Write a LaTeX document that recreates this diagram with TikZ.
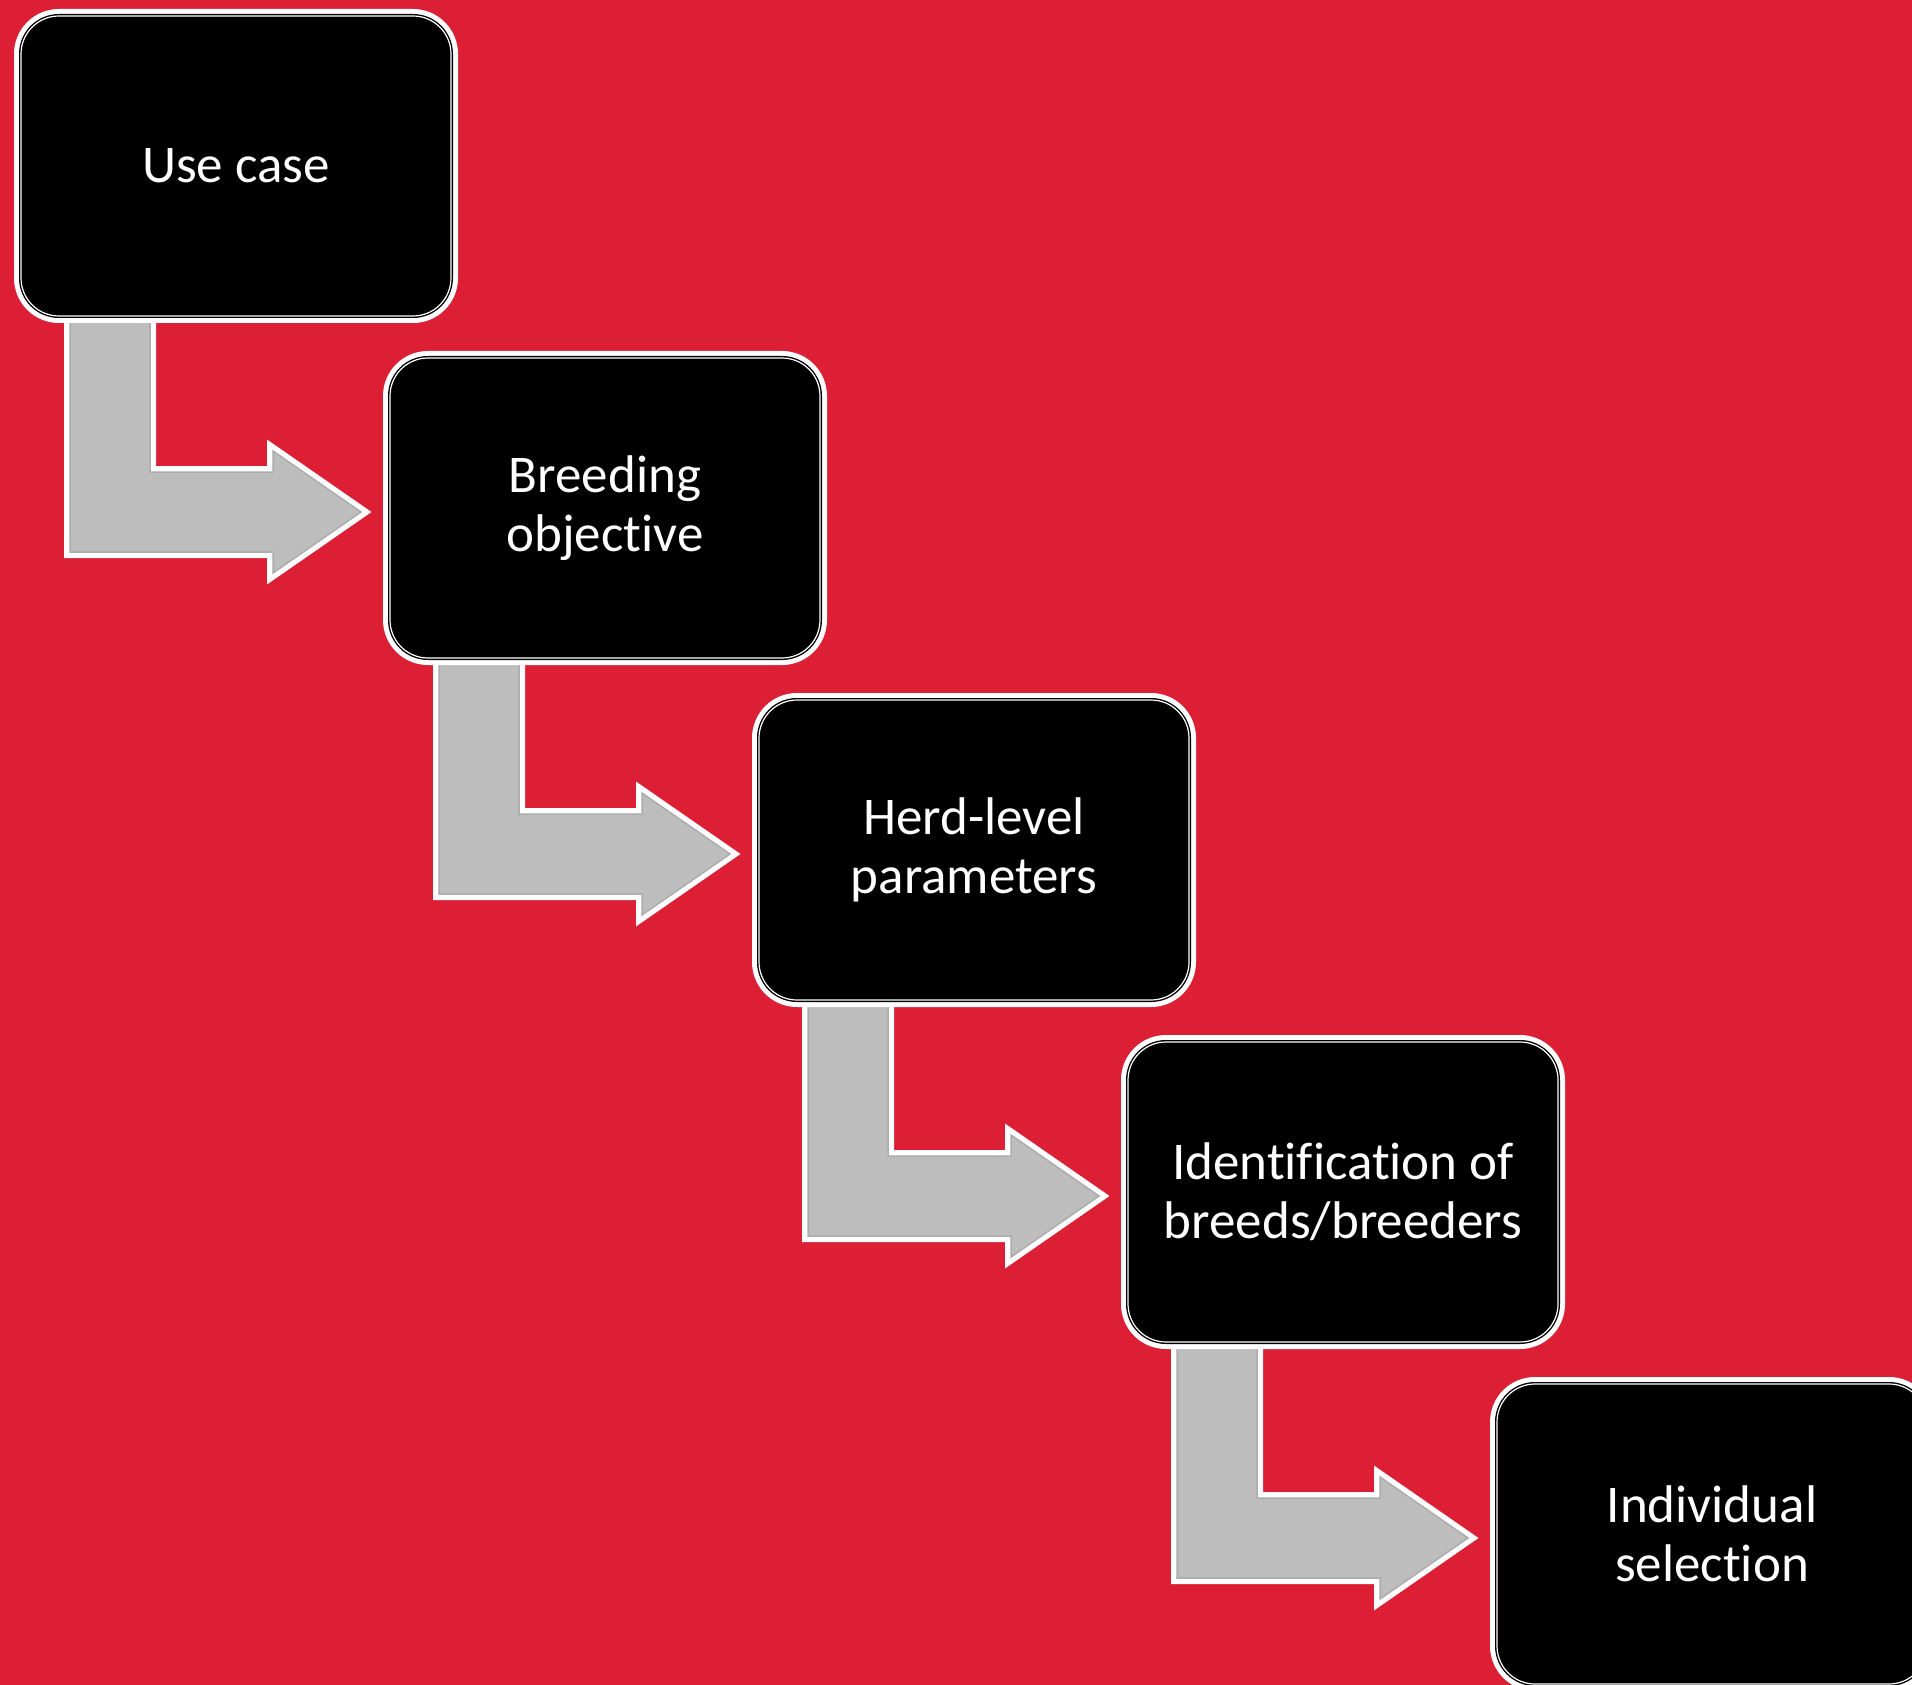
\documentclass[tikz,border=0pt]{standalone}
\usepackage{fontspec}
\setmainfont{Carlito}[Ligatures=NoCommon]
\usepackage{tikz}
\usetikzlibrary{calc,backgrounds}

\definecolor{slidered}{HTML}{DC1F34}
\definecolor{arrowgray}{HTML}{BDBDBD}

\tikzset{
  stepbox/.style={rectangle, rounded corners=38pt, fill=black, draw=white,
    line width=1.2pt, inner sep=0pt, outer sep=0pt,
    minimum width=430pt, minimum height=300pt,
    preaction={draw=white, line width=14pt},
    preaction={draw=black, line width=4pt},
    text=white, align=center, font=\fontsize{53}{59}\selectfont},
  bentshape/.style={fill=arrowgray, line join=miter,
    preaction={draw=white, line width=12pt},
    postaction={draw=gray!65, line width=1.5pt}}
}

% fleche coudee sous une boite
\newcommand{\bentarrow}[1]{%
  \begin{scope}[shift={(#1.south west)}]
    \path[bentshape] (49,-20) -- (49,236) -- (252,236) -- (252,257)
      -- (340,196) -- (252,135) -- (252,156) -- (129,156) -- (129,-20) -- cycle;
  \end{scope}
}

\begin{document}
\begin{tikzpicture}[x=1pt, y=-1pt]
  \useasboundingbox (0,0) rectangle (1912,1685);
  \clip (0,0) rectangle (1912,1685);

  % Etapes
  \foreach \i/\txt in {1/{Use case}, 2/{Breeding\\objective},
      3/{Herd-level\\parameters}, 4/{Identification of\\breeds/breeders},
      5/{Individual\\selection}} {
    \node[stepbox] (box\i) at ({236+369*(\i-1)}, {166+342*(\i-1)}) {\txt};
  }

  % Fond et fleches
  \begin{scope}[on background layer]
    \fill[slidered] (0,0) rectangle (1912,1685);
    \foreach \i in {1,...,4} {
      \bentarrow{box\i}
    }
  \end{scope}
\end{tikzpicture}
\end{document}
